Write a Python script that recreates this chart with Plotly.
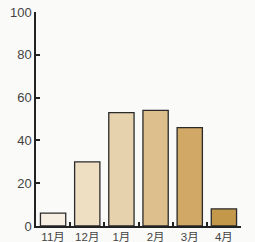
import plotly.graph_objects as go

categories = ["11月", "12月", "1月", "2月", "3月", "4月"]
values = [6, 30, 53, 54, 46, 8]
colors = ["#f7efe2", "#eedfc3", "#e6d3ae", "#dcbf8c", "#d2a867", "#c4984a"]
y_ticks = [0, 20, 40, 60, 80, 100]

fig = go.Figure(go.Bar(
    x=categories, y=values,
    marker=dict(color=colors, line=dict(color="#2a2a2a", width=1.3)),
    width=0.74,
))
fig.update_layout(
    width=255, height=242,
    margin=dict(l=36, r=14, t=12, b=16),
    paper_bgcolor="#fafaf8", plot_bgcolor="#fafaf8",
    showlegend=False,
    font=dict(family="Liberation Sans, Noto Sans CJK JP, sans-serif", color="#444", size=12),
)
fig.update_xaxes(
    showline=True, linecolor="#222", linewidth=1.5,
    ticks="inside", ticklen=4, tickcolor="#222", tickwidth=1.5,
    tickson="boundaries", showgrid=False, zeroline=False,
    tickangle=0, automargin=False, ticklabelstandoff=-1,
    tickfont=dict(size=11.5, color="#444"),
)
fig.update_yaxes(
    range=[0, 100], tickvals=y_ticks,
    showline=True, linecolor="#222", linewidth=1.5,
    ticks="inside", ticklen=4, tickcolor="#222", tickwidth=1.5,
    showgrid=False, zeroline=False, automargin=False,
    tickfont=dict(size=13, color="#444"),
)
fig.write_html(
    "out.html",
    config={"displayModeBar": False},
    post_script="document.body.style.margin='0';document.body.style.background='#fafaf8';",
)
